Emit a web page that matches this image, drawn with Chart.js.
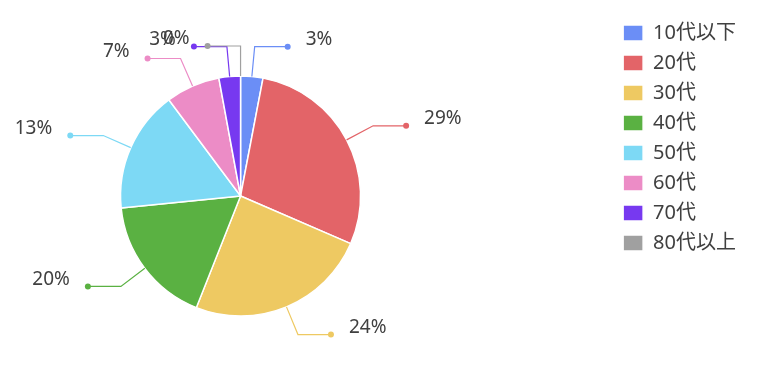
<!DOCTYPE html>
<html>
<head>
<meta charset="utf-8">
<script src="https://cdn.jsdelivr.net/npm/chart.js@4"></script>
<style>
body{margin:0;background:#fff;}
</style>
</head>
<body>
<canvas id="ageChart" width="765" height="368"></canvas>
<script>
// age groups and their share (slice sizes)
const ageLabels = ["10代以下","20代","30代","40代","50代","60代","70代","80代以上"];
const shareValues = [3.0, 28.5, 24.5, 17.4, 16.4, 7.3, 2.9, 0];
// percent texts as printed on the callouts
const shareTexts = ["3%","29%","24%","20%","13%","7%","3%","0%"];
const sliceColors = ["#6b8ef6","#e36468","#eec962","#5ab142","#7dd9f5","#ec8cc6","#7739f0","#a0a0a0"];

const fontFamily = "'Noto Sans','Noto Sans CJK JP',sans-serif";

// pie sits left of the middle of its area, so widen the area to the left
const shiftArea = {
id:"shiftArea",
afterLayout(chart){
const a = chart.chartArea;
a.left -= 132;
a.bottom += 11;
a.width = a.right - a.left;
a.height = a.bottom - a.top;
}
};

// leader lines with a dot and the percent text
const calloutPlugin = {
id:"callouts",
afterDatasetsDraw(chart){
const ctx = chart.ctx;
const meta = chart.getDatasetMeta(0);
meta.data.forEach((arc,i)=>{
const p = arc.getProps(["x","y","startAngle","endAngle","outerRadius"],true);
const mid = (p.startAngle+p.endAngle)/2;
const cos = Math.cos(mid), sin = Math.sin(mid);
const x1 = p.x + cos*p.outerRadius, y1 = p.y + sin*p.outerRadius;
const x2 = p.x + cos*(p.outerRadius+30), y2 = p.y + sin*(p.outerRadius+30);
const dir = cos >= 0 ? 1 : -1;
const x3 = x2 + dir*33;
ctx.save();
ctx.strokeStyle = sliceColors[i];
ctx.fillStyle = sliceColors[i];
ctx.lineWidth = 1.2;
ctx.beginPath();
ctx.moveTo(x1,y1);
ctx.lineTo(x2,y2);
ctx.lineTo(x3,y2);
ctx.stroke();
ctx.beginPath();
ctx.arc(x3,y2,3,0,Math.PI*2);
ctx.fill();
ctx.fillStyle = "#404040";
ctx.font = "19px " + fontFamily;
ctx.textBaseline = "middle";
ctx.textAlign = dir > 0 ? "left" : "right";
ctx.fillText(shareTexts[i], x3 + dir*18, y2 - 7);
ctx.restore();
});
}
};

new Chart(document.getElementById("ageChart"),{
type:"pie",
data:{
labels:ageLabels,
datasets:[{
data:shareValues,
backgroundColor:sliceColors,
borderColor:"#fff",
borderWidth:1.5,
radius:120
}]
},
options:{
responsive:false,
animation:false,
layout:{padding:{left:0,right:19,top:13,bottom:0}},
plugins:{
tooltip:{enabled:false},
legend:{
position:"right",
align:"start",
labels:{
boxWidth:20,
boxHeight:16,
padding:10,
color:"#404040",
font:{size:20,family:fontFamily}
}
}
}
},
plugins:[shiftArea, calloutPlugin]
});
</script>
</body>
</html>
